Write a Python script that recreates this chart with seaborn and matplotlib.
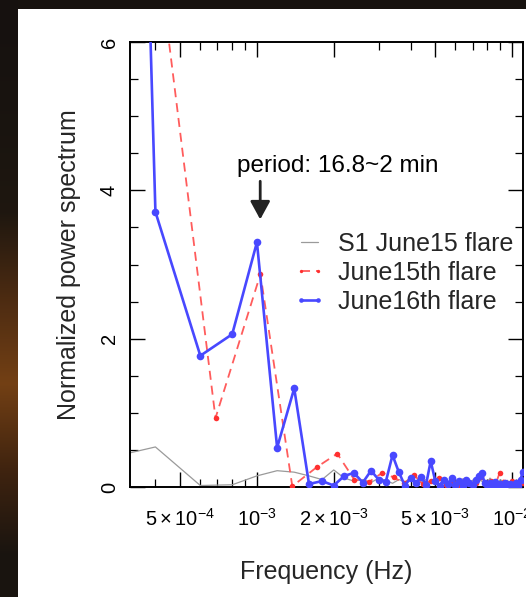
import numpy as np
import pandas as pd
import matplotlib
matplotlib.use("Agg")
import matplotlib.pyplot as plt
import matplotlib.ticker as mticker
from matplotlib.patches import Rectangle
import seaborn as sns

# ---------------- data ----------------
df_blue = 2.0e-4     # frequency step, June16th flare (Hz)
df_red = 3.44e-4     # frequency step, June15th flare (Hz)
df_gray = 2.0e-4     # frequency step, S1 June15 flare (Hz)

blue_power = [40.0, 3.71, 1.77, 2.06, 3.30, 0.53, 1.33, 0.04, 0.08, 0.02,
              0.15, 0.19, 0.06, 0.22, 0.10, 0.07, 0.43, 0.20, 0.02, 0.12,
              0.05, 0.14, 0.03, 0.35, 0.08, 0.02, 0.10, 0.04, 0.12, 0.03,
              0.08, 0.02, 0.10, 0.05, 0.03, 0.09, 0.15, 0.19, 0.06, 0.03,
              0.05, 0.02, 0.07, 0.03, 0.04, 0.02, 0.05, 0.03, 0.04, 0.02,
              0.03, 0.05, 0.02, 0.10, 0.20]
red_power = [9.3, 0.93, 2.87, 0.01, 0.27, 0.45, 0.10, 0.07, 0.19, 0.13,
             0.05, 0.16, 0.04, 0.08, 0.12, 0.03, 0.06, 0.02, 0.10, 0.04,
             0.06, 0.14, 0.05, 0.08, 0.03, 0.19, 0.07, 0.04, 0.08, 0.03,
             0.05, 0.06]
gray_power = [0.30, 0.54, 0.02, 0.03, 0.15, 0.22, 0.20, 0.15, 0.10, 0.23,
              0.12, 0.08, 0.10, 0.06, 0.12, 0.09, 0.05, 0.10, 0.07, 0.12,
              0.08, 0.06, 0.10, 0.05, 0.09, 0.12, 0.07, 0.05, 0.10, 0.08,
              0.06, 0.11, 0.07, 0.05, 0.09, 0.06, 0.10, 0.08, 0.05, 0.07,
              0.12, 0.06, 0.08, 0.05, 0.10, 0.07, 0.06, 0.09, 0.05, 0.08,
              0.06, 0.10, 0.07, 0.12, 0.08]

labels = ["S1 June15 flare", "June15th flare", "June16th flare"]
x_ticks = [5e-4, 1e-3, 2e-3, 5e-3, 1e-2]
x_ticklabels = [r"$5\times10^{-4}$", r"$10^{-3}$", r"$2\times10^{-3}$",
                r"$5\times10^{-3}$", r"$10^{-2}$"]
y_ticks = [0, 2, 4, 6]
annot_text = "period: 16.8~2 min"

blue = pd.DataFrame({"freq": df_blue * np.arange(1, len(blue_power) + 1),
                     "power": blue_power})
red = pd.DataFrame({"freq": df_red * np.arange(1, len(red_power) + 1),
                    "power": red_power})
gray = pd.DataFrame({"freq": df_gray * np.arange(1, len(gray_power) + 1),
                     "power": gray_power})

# ---------------- style ----------------
sns.set_theme(style="ticks")
plt.rcParams["font.family"] = ["Liberation Sans", "DejaVu Sans"]
plt.rcParams["mathtext.fontset"] = "custom"
plt.rcParams["mathtext.rm"] = "Liberation Sans"
plt.rcParams["mathtext.it"] = "Liberation Sans:italic"
plt.rcParams["mathtext.bf"] = "Liberation Sans:bold"

W, H = 526, 597
fig = plt.figure(figsize=(W / 100, H / 100), dpi=100, facecolor="#17120f")

# dark photographic margin on the left with a warm glow near the bottom
bg = fig.add_axes([0, 0, 18 / W, 1])
bg.set_zorder(-10)
bg.axis("off")
glow = np.array([[0.09, 0.07, 0.06], [0.10, 0.08, 0.06], [0.12, 0.09, 0.06],
                 [0.30, 0.17, 0.07], [0.45, 0.25, 0.08], [0.25, 0.14, 0.06],
                 [0.10, 0.08, 0.06]])
bg.imshow(glow[:, None, :], aspect="auto", interpolation="bilinear",
          extent=(0, 1, 0, 1))

fig.patches.append(Rectangle((18 / W, 0), 1, 1 - 9 / H, transform=fig.transFigure,
                             facecolor="white", edgecolor="none", zorder=-5))

ax = fig.add_axes([130 / W, 1 - 487 / H, 393 / W, 445 / H])
ax.set_zorder(2)
ax.set_facecolor("white")
ax.set_xscale("log")

sns.lineplot(data=gray, x="freq", y="power", ax=ax, color="#9a9a9a", lw=0.9,
             estimator=None, label=labels[0], zorder=2)
sns.lineplot(data=red, x="freq", y="power", ax=ax, color="#ff5c5c", lw=1.3,
             linestyle=(0, (5, 3.3)), marker="o", markersize=4,
             markeredgewidth=0, markerfacecolor="#ff3030",
             estimator=None, label=labels[1], zorder=3)
sns.lineplot(data=blue, x="freq", y="power", ax=ax, color="#4848ff", lw=1.9,
             marker="o", markersize=5.5, markeredgewidth=0,
             estimator=None, label=labels[2], zorder=4)

ax.set_xlim(3.18e-4, 1.104e-2)
ax.set_ylim(0, 6)

ax.set_xticks(x_ticks)
ax.set_xticklabels(x_ticklabels)
ax.xaxis.set_minor_locator(mticker.LogLocator(base=10, subs=np.arange(2, 10), numticks=20))
ax.xaxis.set_minor_formatter(mticker.NullFormatter())
ax.set_yticks(y_ticks)
ax.set_yticklabels([str(v) for v in y_ticks], rotation=90, va="center")
ax.yaxis.set_minor_locator(mticker.MultipleLocator(0.5))

ax.tick_params(which="both", direction="in", top=True, right=True, colors="black")
ax.tick_params(which="major", length=11, width=1.0)
ax.tick_params(which="minor", length=6, width=0.9)
ax.tick_params(axis="x", which="major", labelsize=14.5, pad=15)
ax.tick_params(axis="y", which="major", labelsize=14.5, pad=8)
for s in ax.spines.values():
    s.set_color("black")
    s.set_linewidth(1.4)

ax.set_xlabel("Frequency (Hz)", fontsize=18)
ax.set_ylabel("Normalized power spectrum", fontsize=18)
ax.xaxis.set_label_coords(0.5, -0.163)
ax.yaxis.set_label_coords(-0.125, 0.5)

ax.text((237 - 130) / 393, (487 - 166) / 445, annot_text, transform=ax.transAxes,
        fontsize=17.5, ha="left", va="center", color="black")
ax.annotate("", xy=(1.03e-3, 3.57), xytext=(1.03e-3, 4.16),
            arrowprops=dict(arrowstyle="-|>,head_length=0.55,head_width=0.3",
                            color="#222222", lw=2, mutation_scale=20))

leg = ax.legend(loc="upper left", bbox_to_anchor=((293 - 130) / 393, (487 - 232) / 445),
                frameon=False, fontsize=18, numpoints=2, handlelength=1.3,
                handletextpad=0.5, labelspacing=0.2, borderpad=0, borderaxespad=0,
                markerscale=0.6)

fig.savefig("out.png", dpi=100, facecolor=fig.get_facecolor())
